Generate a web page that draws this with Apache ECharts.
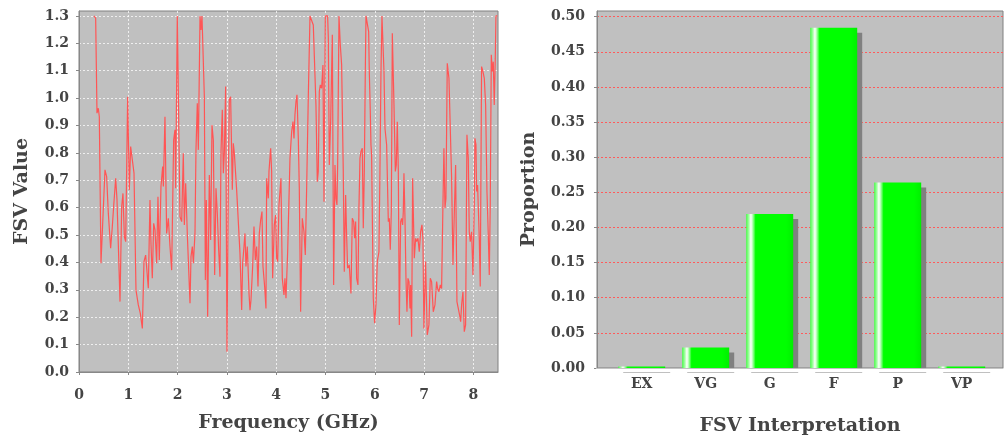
<!DOCTYPE html>
<html>
<head>
<meta charset="utf-8">
<script src="https://cdn.jsdelivr.net/npm/echarts@6/dist/echarts.min.js"></script>
<style>
html,body{margin:0;padding:0;background:#fff;}
#c{width:1004px;height:442px;}
</style>
</head>
<body>
<div id="c"></div>
<script>
// ---- Left chart: FSV value vs frequency ----
const freqGHz = [0.304,0.338,0.365,0.392,0.412,0.446,0.473,0.527,0.561,0.595,0.642,0.676,0.703,0.744,0.771,0.798,0.832,0.866,0.892,0.92,0.947,0.987,1.021,1.048,1.082,1.116,1.156,1.203,1.244,1.285,1.318,1.352,1.379,1.406,1.44,1.46,1.487,1.515,1.542,1.575,1.602,1.629,1.663,1.697,1.711,1.744,1.778,1.812,1.846,1.88,1.92,1.947,1.961,1.994,2.028,2.049,2.083,2.116,2.137,2.164,2.198,2.231,2.252,2.272,2.299,2.32,2.353,2.373,2.4,2.421,2.455,2.475,2.495,2.522,2.543,2.563,2.583,2.61,2.644,2.671,2.698,2.725,2.752,2.779,2.806,2.833,2.86,2.88,2.907,2.928,2.948,2.975,3.002,3.029,3.049,3.076,3.11,3.13,3.151,3.198,3.232,3.266,3.3,3.32,3.347,3.367,3.387,3.414,3.435,3.449,3.469,3.489,3.523,3.55,3.577,3.604,3.631,3.658,3.685,3.712,3.732,3.766,3.793,3.807,3.84,3.854,3.888,3.908,3.928,3.962,3.989,4.01,4.03,4.057,4.077,4.097,4.124,4.158,4.178,4.199,4.233,4.28,4.314,4.341,4.361,4.381,4.402,4.422,4.449,4.469,4.496,4.53,4.564,4.591,4.618,4.651,4.686,4.72,4.753,4.787,4.807,4.834,4.854,4.875,4.895,4.922,4.949,4.97,4.997,5.044,5.058,5.078,5.105,5.139,5.166,5.193,5.213,5.233,5.247,5.274,5.301,5.328,5.361,5.382,5.409,5.429,5.449,5.483,5.517,5.544,5.572,5.592,5.612,5.632,5.659,5.68,5.7,5.72,5.747,5.767,5.788,5.808,5.822,5.855,5.876,5.889,5.909,5.923,5.936,5.97,5.997,6.024,6.051,6.085,6.105,6.126,6.146,6.173,6.187,6.207,6.241,6.275,6.295,6.315,6.336,6.356,6.39,6.417,6.437,6.457,6.478,6.498,6.525,6.545,6.565,6.579,6.592,6.613,6.633,6.653,6.673,6.694,6.714,6.728,6.748,6.768,6.788,6.802,6.829,6.85,6.876,6.903,6.93,6.957,6.977,6.997,7.031,7.065,7.099,7.126,7.153,7.187,7.221,7.255,7.275,7.302,7.329,7.356,7.383,7.403,7.424,7.444,7.471,7.505,7.532,7.559,7.586,7.613,7.64,7.667,7.694,7.721,7.742,7.762,7.789,7.816,7.843,7.87,7.897,7.917,7.937,7.964,7.992,8.019,8.032,8.053,8.066,8.086,8.12,8.14,8.167,8.195,8.222,8.249,8.276,8.303,8.323,8.343,8.364,8.384,8.404,8.424,8.445,8.458,8.485];
const fsvValues = [1.3,1.292,0.945,0.963,0.932,0.397,0.397,0.738,0.713,0.579,0.452,0.531,0.604,0.707,0.628,0.628,0.257,0.604,0.652,0.494,0.476,1.005,0.665,0.823,0.829,0.726,0.299,0.245,0.214,0.159,0.403,0.427,0.427,0.306,0.628,0.47,0.342,0.543,0.519,0.397,0.64,0.409,0.677,0.75,0.677,0.932,0.506,0.561,0.458,0.372,0.847,0.884,0.671,1.3,1.3,0.567,0.549,0.799,0.537,0.689,0.5,0.5,0.251,0.421,0.458,0.397,0.506,0.811,0.981,0.811,1.3,1.249,1.3,1.3,1.005,0.336,0.628,0.202,0.719,0.482,0.902,0.847,0.354,0.671,0.579,0.446,0.348,0.799,0.957,0.726,0.799,1.042,0.074,0.689,0.993,1.005,0.665,0.835,0.799,0.665,0.665,0.433,0.226,0.397,0.458,0.506,0.385,0.458,0.458,0.287,0.226,0.263,0.385,0.531,0.409,0.458,0.312,0.506,0.555,0.586,0.385,0.312,0.232,0.707,0.634,0.732,0.817,0.732,0.342,0.537,0.573,0.415,0.403,0.61,0.61,0.707,0.342,0.281,0.342,0.269,0.439,0.78,0.878,0.914,0.853,0.939,0.987,1.012,0.853,0.671,0.22,0.561,0.512,0.427,0.671,0.999,1.3,1.3,1.267,1.261,0.975,0.695,0.732,1.024,1.048,1.036,1.121,0.622,1.3,1.3,1.218,0.756,0.914,1.231,0.318,0.756,0.634,0.61,0.756,1.3,1.194,1.121,0.732,0.366,0.646,0.5,0.379,0.391,0.287,0.561,0.549,0.488,0.549,0.342,0.318,0.61,0.78,0.805,0.817,0.525,0.732,1.097,1.3,1.3,1.243,1.097,0.951,0.829,0.792,0.269,0.178,0.245,0.403,0.439,0.732,1.097,1.3,1.3,1.097,0.89,0.829,0.549,0.561,0.446,0.586,1.237,0.975,0.732,0.756,0.914,0.732,0.172,0.549,0.561,0.537,0.586,0.726,0.561,0.342,0.22,0.342,0.33,0.232,0.318,0.129,0.707,0.707,0.415,0.488,0.476,0.488,0.439,0.512,0.537,0.488,0.159,0.403,0.135,0.172,0.342,0.33,0.22,0.245,0.33,0.305,0.293,0.318,0.305,0.61,0.817,0.598,0.634,1.127,1.072,1.072,0.707,0.391,0.391,0.756,0.257,0.232,0.208,0.184,0.245,0.293,0.147,0.172,0.866,0.78,0.512,0.476,0.512,0.354,0.61,0.853,0.829,0.659,0.683,0.488,0.312,1.115,1.097,1.072,0.975,0.659,0.5,0.354,0.61,1.158,1.097,1.133,0.975,1.145,1.3,1.3];
const leftXTicks = [0,1,2,3,4,5,6,7,8];
const leftYTicks = [0,0.1,0.2,0.3,0.4,0.5,0.6,0.7,0.8,0.9,1.0,1.1,1.2,1.3];

// ---- Right chart: proportion per FSV interpretation ----
const categories = ['EX','VG','G','F','P','VP'];
const proportions = [0.002,0.029,0.219,0.484,0.264,0.002];
const rightYTicks = [0,0.05,0.1,0.15,0.2,0.25,0.3,0.35,0.4,0.45,0.5];

const FONT = 'DejaVu Serif';
const tickFont = {fontFamily: FONT, fontWeight: 'bold', fontSize: 14, color: '#444'};
const titleFont = {fontFamily: FONT, fontWeight: 'bold', fontSize: 19, color: '#444'};
const axisLineStyle = {color: '#888', width: 1};

const lineData = freqGHz.map((f, i) => [f, fsvValues[i]]);

const chart = echarts.init(document.getElementById('c'), null, {renderer: 'canvas'});
chart.setOption({
  animation: false,
  backgroundColor: '#ffffff',
  grid: [
    {left: 79, top: 11, width: 419, height: 361, show: true, backgroundColor: '#c0c0c0', borderColor: '#808080', borderWidth: 1},
    {left: 597, top: 11, width: 406, height: 357, show: true, backgroundColor: '#c0c0c0', borderColor: '#808080', borderWidth: 1},
    {left: 609.7, top: 11, width: 384, height: 357, show: false}
  ],
  graphic: [
    // white gap between plot area and the offset category axis (hides bar shadow below baseline)
    {type: 'rect', z: 100, silent: true, shape: {x: 596, y: 368.6, width: 408, height: 3.8}, style: {fill: '#ffffff'}}
  ],
  xAxis: [
    {
      gridIndex: 0, type: 'value', min: 0, max: 8.5, interval: 1, offset: 6,
      name: 'Frequency (GHz)', nameLocation: 'middle', nameGap: 36, nameTextStyle: titleFont,
      axisLine: {show: true, lineStyle: axisLineStyle},
      axisTick: {show: true, length: 3, lineStyle: axisLineStyle, customValues: leftXTicks},
      axisLabel: Object.assign({margin: 10, customValues: leftXTicks, formatter: v => String(v)}, tickFont),
      splitLine: {show: true, lineStyle: {color: '#ffffff', type: [2, 2], opacity: 0.75}}
    },
    {
      gridIndex: 1, type: 'value', min: 0, max: 1, offset: 5,
      name: 'FSV Interpretation', nameLocation: 'middle', nameGap: 44, nameTextStyle: titleFont,
      axisLine: {show: true, lineStyle: axisLineStyle},
      axisTick: {show: false}, axisLabel: {show: false}, splitLine: {show: false}
    },
    {
      gridIndex: 2, type: 'category', data: categories, offset: 5,
      axisLine: {show: false},
      axisTick: {show: true, alignWithLabel: true, length: 3, lineStyle: axisLineStyle},
      axisLabel: Object.assign({margin: 4}, tickFont),
      splitLine: {show: false}
    }
  ],
  yAxis: [
    {
      gridIndex: 0, type: 'value', min: 0, max: 1.318, interval: 0.1, offset: 5,
      name: 'FSV Value', nameLocation: 'middle', nameGap: 42, nameRotate: 90, nameTextStyle: titleFont,
      axisLine: {show: true, lineStyle: axisLineStyle},
      axisTick: {show: true, length: 3, lineStyle: axisLineStyle, customValues: leftYTicks},
      axisLabel: Object.assign({margin: 5, customValues: leftYTicks, formatter: v => v.toFixed(1)}, tickFont),
      splitLine: {show: true, lineStyle: {color: '#ffffff', type: [2, 2], opacity: 0.75}}
    },
    {
      gridIndex: 1, type: 'value', min: 0, max: 0.508, interval: 0.05, offset: 6,
      name: 'Proportion', nameLocation: 'middle', nameGap: 52, nameRotate: 90, nameTextStyle: titleFont,
      axisLine: {show: true, lineStyle: axisLineStyle},
      axisTick: {show: true, length: 3, lineStyle: axisLineStyle, customValues: rightYTicks},
      axisLabel: Object.assign({margin: 6, customValues: rightYTicks, formatter: v => v.toFixed(2)}, tickFont),
      splitLine: {show: true, lineStyle: {color: '#ff5a5a', type: [2, 2], width: 1}}
    },
    {
      gridIndex: 2, type: 'value', min: 0, max: 0.508, show: false, splitLine: {show: false}
    }
  ],
  series: [
    {
      type: 'line', xAxisIndex: 0, yAxisIndex: 0, data: lineData,
      showSymbol: false, symbol: 'none', clip: true,
      lineStyle: {color: '#ff5555', width: 1.2}
    },
    {
      type: 'bar', xAxisIndex: 2, yAxisIndex: 2, data: proportions,
      barWidth: 47, clip: true,
      itemStyle: {
        color: new echarts.graphic.LinearGradient(0, 0, 1, 0, [
          {offset: 0, color: '#44ff44'},
          {offset: 0.06, color: '#aaffaa'},
          {offset: 0.1, color: '#ffffff'},
          {offset: 0.14, color: '#aaffaa'},
          {offset: 0.2, color: '#00ff00'},
          {offset: 0.85, color: '#00ff00'},
          {offset: 1, color: '#00f000'}
        ]),
        shadowColor: '#808080', shadowOffsetX: 5, shadowOffsetY: 5, shadowBlur: 0
      }
    }
  ]
});
</script>
</body>
</html>
